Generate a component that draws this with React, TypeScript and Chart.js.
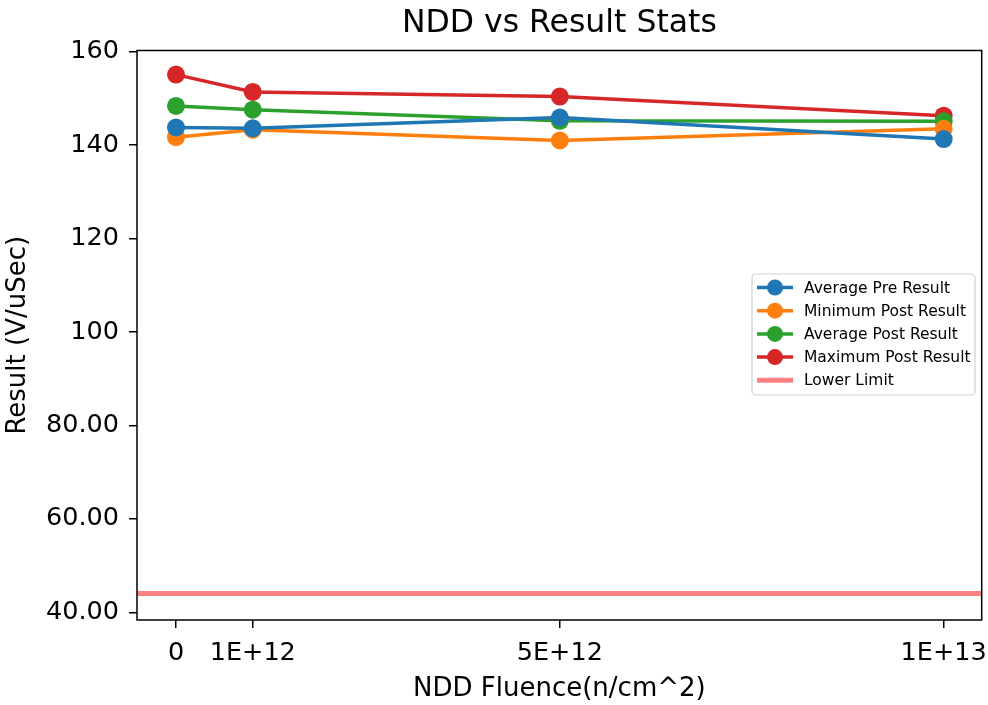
import React, { useEffect, useRef } from "react";
import { Chart, registerables } from "chart.js";

Chart.register(...registerables);

const fluence = [0, 1e12, 5e12, 1e13];
const fluenceLabels = ["0", "1E+12", "5E+12", "1E+13"];
const avgPre = [143.8, 143.6, 145.9, 141.3];
const minPost = [141.7, 143.3, 141.0, 143.5];
const avgPost = [148.4, 147.6, 145.2, 145.1];
const maxPost = [155.1, 151.4, 150.4, 146.3];
const lowerLimit = 44;
const yTicks = [40, 60, 80, 100, 120, 140, 160];
const yTickLabels = ["40.00", "60.00", "80.00", "100", "120", "140", "160"];
const xMin = -0.508e12;
const xMax = 10.495e12;
const yMin = 38.35;
const yMax = 160.26;

const seriesNames = ["Average Pre Result", "Minimum Post Result", "Average Post Result", "Maximum Post Result"];
const seriesColors = ["#1f77b4", "#ff7f0e", "#2ca02c", "#d62728"];
const seriesData = [avgPre, minPost, avgPost, maxPost];
const limitColor = "#ff8080";
const FONT = "'DejaVu Sans', sans-serif";

export default function App() {
  const ref = useRef<HTMLCanvasElement>(null);
  useEffect(() => {
    document.body.style.margin = "0";
    const canvas = ref.current!;
    const datasets: any[] = seriesData.map((vals, i) => ({
      label: seriesNames[i],
      data: fluence.map((x, j) => ({ x, y: vals[j] })),
      borderColor: seriesColors[i],
      backgroundColor: seriesColors[i],
      borderWidth: 3.5,
      pointRadius: 9,
      pointHoverRadius: 9,
      pointBorderWidth: 0,
      tension: 0,
      clip: false,
    }));
    datasets.push({
      label: "Lower Limit",
      data: [{ x: xMin, y: lowerLimit }, { x: xMax, y: lowerLimit }],
      borderColor: limitColor,
      backgroundColor: limitColor,
      borderWidth: 5,
      pointRadius: 0,
      tension: 0,
    });

    const decor = {
      id: "decor",
      afterDraw(chart: any) {
        const ctx = chart.ctx;
        const a = chart.chartArea;
        ctx.save();
        ctx.strokeStyle = "#000";
        ctx.lineWidth = 1.5;
        ctx.strokeRect(a.left, a.top, a.right - a.left, a.bottom - a.top);
        // title
        ctx.fillStyle = "#000";
        ctx.font = `31.5px ${FONT}`;
        ctx.textAlign = "center";
        ctx.textBaseline = "alphabetic";
        ctx.fillText("NDD vs Result Stats", (a.left + a.right) / 2, 32);
        // legend
        const lx = 752, ly = 274, lw = 223, lh = 121;
        ctx.beginPath();
        const r = 4;
        ctx.moveTo(lx + r, ly);
        ctx.arcTo(lx + lw, ly, lx + lw, ly + lh, r);
        ctx.arcTo(lx + lw, ly + lh, lx, ly + lh, r);
        ctx.arcTo(lx, ly + lh, lx, ly, r);
        ctx.arcTo(lx, ly, lx + lw, ly, r);
        ctx.closePath();
        ctx.fillStyle = "rgba(255,255,255,0.8)";
        ctx.fill();
        ctx.strokeStyle = "#d0d0d0";
        ctx.lineWidth = 1.2;
        ctx.stroke();
        const names = [...seriesNames, "Lower Limit"];
        const colors = [...seriesColors, limitColor];
        ctx.font = `15.5px ${FONT}`;
        ctx.textAlign = "left";
        ctx.textBaseline = "middle";
        names.forEach((n, i) => {
          const y = 287.5 + i * 23.2;
          ctx.strokeStyle = colors[i];
          ctx.lineWidth = i < 4 ? 3.5 : 5;
          ctx.beginPath();
          ctx.moveTo(757, y);
          ctx.lineTo(793, y);
          ctx.stroke();
          if (i < 4) {
            ctx.fillStyle = colors[i];
            ctx.beginPath();
            ctx.arc(775, y, 8, 0, Math.PI * 2);
            ctx.fill();
          }
          ctx.fillStyle = "#000";
          ctx.fillText(n, 804, y + 1);
        });
        ctx.restore();
      },
    };

    const chart = new Chart(canvas, {
      type: "line",
      data: { datasets },
      plugins: [decor],
      options: {
        animation: false,
        responsive: false,
        maintainAspectRatio: false,
        layout: { autoPadding: false, padding: { top: 50.5, right: 6.3, left: 0, bottom: 0 } },
        plugins: { legend: { display: false }, title: { display: false }, tooltip: { enabled: false } },
        scales: {
          x: {
            type: "linear",
            min: xMin,
            max: xMax,
            afterBuildTicks: (s: any) => {
              s.ticks = fluence.map((v) => ({ value: v }));
            },
            afterFit: (s: any) => {
              s.height = 85;
              s.paddingLeft = 0;
              s.paddingRight = 0;
            },
            ticks: {
              autoSkip: false,
              maxRotation: 0,
              color: "#000",
              font: { family: FONT, size: 25.5 },
              padding: 10,
              callback: (v: any) => {
                const i = fluence.indexOf(Number(v));
                return i >= 0 ? fluenceLabels[i] : "";
              },
            },
            grid: { drawOnChartArea: false, drawTicks: true, tickLength: 8, color: "#000", lineWidth: 1.5 },
            border: { display: false },
            title: { display: true, text: "NDD Fluence(n/cm^2)", color: "#000", font: { family: FONT, size: 26 }, padding: { top: 0, bottom: 0 } },
          },
          y: {
            type: "linear",
            min: yMin,
            max: yMax,
            afterBuildTicks: (s: any) => {
              s.ticks = yTicks.map((v) => ({ value: v }));
            },
            afterFit: (s: any) => {
              s.width = 137;
              s.paddingTop = 0;
              s.paddingBottom = 0;
            },
            ticks: {
              autoSkip: false,
              color: "#000",
              font: { family: FONT, size: 25.5 },
              padding: 10,
              callback: (v: any) => {
                const i = yTicks.indexOf(Number(v));
                return i >= 0 ? yTickLabels[i] : "";
              },
            },
            grid: { drawOnChartArea: false, drawTicks: true, tickLength: 8, color: "#000", lineWidth: 1.5 },
            border: { display: false },
            title: { display: true, text: "Result (V/uSec)", color: "#000", font: { family: FONT, size: 26 }, padding: { top: 3, bottom: 0 } },
          },
        },
      },
    });
    return () => chart.destroy();
  }, []);
  return (
    <div style={{ width: 988, height: 705 }}>
      <canvas ref={ref} width={988} height={705} style={{ display: "block", width: 988, height: 705 }} />
    </div>
  );
}
